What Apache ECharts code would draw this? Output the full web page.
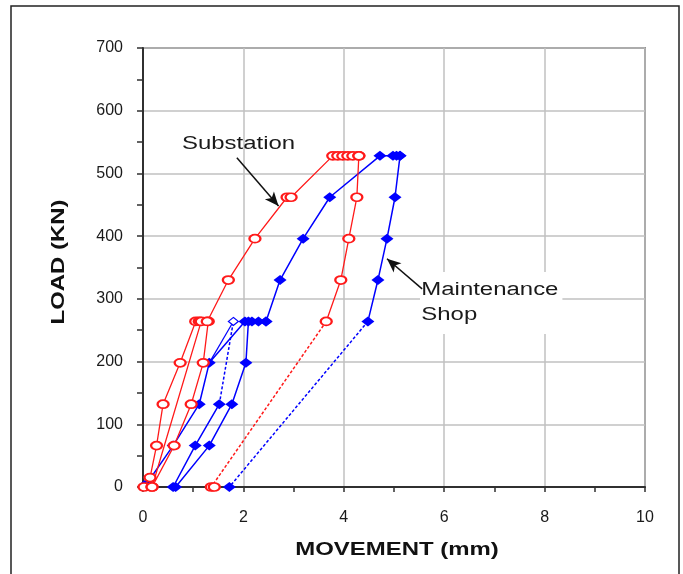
<!DOCTYPE html>
<html>
<head>
<meta charset="utf-8">
<script src="https://cdn.jsdelivr.net/npm/echarts@6/dist/echarts.min.js"></script>
<style>
html,body{margin:0;padding:0;background:#fff;}
#chart{width:683px;height:574px;}
</style>
</head>
<body>
<div id="chart"></div>
<script>
// ---- data (movement mm, load kN) ----
const xTicks = [0, 2, 4, 6, 8, 10];
const yTicks = [0, 100, 200, 300, 400, 500, 600, 700];
const xTitle = 'MOVEMENT (mm)';
const yTitle = 'LOAD (KN)';
const labelSub = 'Substation';
const labelShop = 'Maintenance\nShop';

// Substation (red, open circles)
const redLoad1   = [[0.02,0],[0.14,15],[0.27,66],[0.40,132],[0.74,198],[1.05,264],[1.12,264]];
const redUnload1 = [[1.30,264],[1.20,198],[0.96,132],[0.62,66],[0.18,0]];
const redReload  = [[0.18,0],[1.16,264],[1.28,264],[1.70,330],[2.23,396],[2.87,462],[2.95,462],[3.78,528],[3.88,528],[3.98,528],[4.08,528],[4.18,528],[4.30,528]];
const redUnload2 = [[4.30,528],[4.26,462],[4.10,396],[3.94,330],[3.65,264]];
const redFinal   = [[3.65,264],[1.36,0]];
const redZero    = [[1.42,0]];

// Maintenance Shop (blue, filled diamonds)
const blueLoad1   = [[0.08,6],[0.60,66],[1.12,132],[1.32,198],[2.03,264],[2.17,264],[2.30,264],[2.45,264]];
const blueUnload1 = [[2.10,264],[2.05,198],[1.77,132],[1.32,66],[0.65,0]];
const blueReload1 = [[0.60,0],[1.04,66],[1.52,132]];
const blueDotted1 = [[1.52,132],[1.80,264]];
const blueSide    = [[1.32,198],[1.80,264]];
const blueReload2 = [[2.45,264],[2.73,330],[3.19,396],[3.72,462],[4.72,528],[4.98,528],[5.05,528],[5.12,528]];
const blueUnload2 = [[5.12,528],[5.02,462],[4.86,396],[4.68,330],[4.48,264]];
const blueFinal   = [[4.48,264],[1.72,0]];

// annotation arrows (data space)
const subArrow   = [[1.87,525],[2.70,448]];
const shopArrow  = [[5.56,316],[4.86,364]];

const RED = '#ff1a1a', BLUE = '#0000ff';
const FONT = '"Liberation Sans", Arial, sans-serif';

function redSeries(name, data, opts) {
  return Object.assign({
    name: name, type: 'line', data: data,
    symbol: 'circle', symbolSize: [11, 8],
    itemStyle: { color: '#fff', borderColor: RED, borderWidth: 2 },
    lineStyle: { color: RED, width: 1.3 },
    z: 3
  }, opts || {});
}
function blueSeries(name, data, opts) {
  return Object.assign({
    name: name, type: 'line', data: data,
    symbol: 'diamond', symbolSize: [13, 10],
    itemStyle: { color: BLUE, borderColor: BLUE, borderWidth: 0 },
    lineStyle: { color: BLUE, width: 1.5 },
    z: 2
  }, opts || {});
}
function dottedEnd(data) {
  return data.map((d, i) => i === 0 ? { value: d, symbol: 'none' } : { value: d });
}

const chart = echarts.init(document.getElementById('chart'), null, { renderer: 'canvas' });

const axisFont = { fontFamily: FONT, fontSize: 16, color: '#1a1a1a' };
const SX = 1.33;

const option = {
  animation: false,
  backgroundColor: '#fff',
  grid: { left: 143, top: 48, width: 502, height: 439, show: true, borderColor: '#404040', borderWidth: 1.5 },
  xAxis: {
    type: 'value', min: xTicks[0], max: xTicks[xTicks.length - 1], interval: 2,
    axisLine: { show: true, lineStyle: { color: '#303030', width: 2 } },
    axisTick: { show: true, length: 5, lineStyle: { color: '#303030', width: 1.5 } },
    minorTick: { show: true, splitNumber: 2, length: 5, lineStyle: { color: '#303030', width: 1.5 } },
    splitLine: { show: true, lineStyle: { color: '#c0c0c0', width: 1.5 } },
    axisLabel: Object.assign({ margin: 23 }, axisFont)
  },
  yAxis: {
    type: 'value', min: yTicks[0], max: yTicks[yTicks.length - 1], interval: 100,
    axisLine: { show: true, lineStyle: { color: '#303030', width: 2 } },
    axisTick: { show: true, length: 6, lineStyle: { color: '#303030', width: 1.5 } },
    minorTick: { show: true, splitNumber: 2, length: 6, lineStyle: { color: '#303030', width: 1.5 } },
    splitLine: { show: true, lineStyle: { color: '#c0c0c0', width: 1.5 } },
    axisLabel: Object.assign({ margin: 20 }, axisFont)
  },
  graphic: [
    { type: 'rect', shape: { x: 11, y: 6, width: 668, height: 580 }, style: { fill: 'none', stroke: '#222', lineWidth: 1.5 }, silent: true, z: 0 },
    { type: 'text', x: 397, y: 550, scaleX: SX, z: 10,
      style: { text: xTitle, font: 'bold 18px ' + FONT, fill: '#111', textAlign: 'center', textVerticalAlign: 'middle', verticalAlign: 'middle' } },
    { type: 'text', x: 59, y: 262, scaleX: SX, rotation: Math.PI / 2, z: 10,
      style: { text: yTitle, font: 'bold 18px ' + FONT, fill: '#111', textAlign: 'center', textVerticalAlign: 'middle', verticalAlign: 'middle' } },
    { type: 'text', x: 182, y: 135, scaleX: SX, z: 10,
      style: { text: labelSub, font: '18px ' + FONT, fill: '#1a1a1a', textVerticalAlign: 'top', verticalAlign: 'top' } },
    { type: 'text', x: 420, y: 272, scaleX: SX, z: 1,
      style: { text: labelShop, font: '18px ' + FONT, fill: '#1a1a1a', lineHeight: 25, textVerticalAlign: 'top', verticalAlign: 'top',
               backgroundColor: '#fff', padding: [6, 3, 6, 1] } }
  ],
  series: [
    redSeries('Substation loading 1', redLoad1),
    redSeries('Substation unloading 1', redUnload1),
    redSeries('Substation reloading', redReload),
    redSeries('Substation unloading 2', redUnload2),
    redSeries('Substation final unload', dottedEnd(redFinal), { lineStyle: { color: RED, width: 1.5, type: [3, 2] } }),
    redSeries('Substation zero', redZero),
    blueSeries('Shop loading 1', blueLoad1),
    blueSeries('Shop unloading 1', blueUnload1),
    blueSeries('Shop reloading 1', blueReload1),
    blueSeries('Shop dotted', dottedEnd(blueDotted1), {
      symbolSize: [10, 8],
      itemStyle: { color: '#fff', borderColor: BLUE, borderWidth: 1.2 },
      lineStyle: { color: BLUE, width: 1.5, type: [3, 2] }
    }),
    blueSeries('Shop side', dottedEnd(blueSide), { symbol: 'none', lineStyle: { color: BLUE, width: 1.2 } }),
    blueSeries('Shop reloading 2', blueReload2),
    blueSeries('Shop unloading 2', blueUnload2),
    blueSeries('Shop final unload', dottedEnd(blueFinal), { lineStyle: { color: BLUE, width: 1.5, type: [3, 2] } }),
    {
      name: 'arrows', type: 'line', data: [], silent: true, z: 5,
      markLine: {
        silent: true, animation: false,
        symbol: ['none', 'arrow'], symbolSize: [9, 14],
        label: { show: false },
        lineStyle: { color: '#111', width: 1.5, type: 'solid' },
        data: [
          [{ coord: subArrow[0] }, { coord: subArrow[1] }],
          [{ coord: shopArrow[0] }, { coord: shopArrow[1] }]
        ]
      }
    }
  ]
};
chart.setOption(option);
</script>
</body>
</html>
